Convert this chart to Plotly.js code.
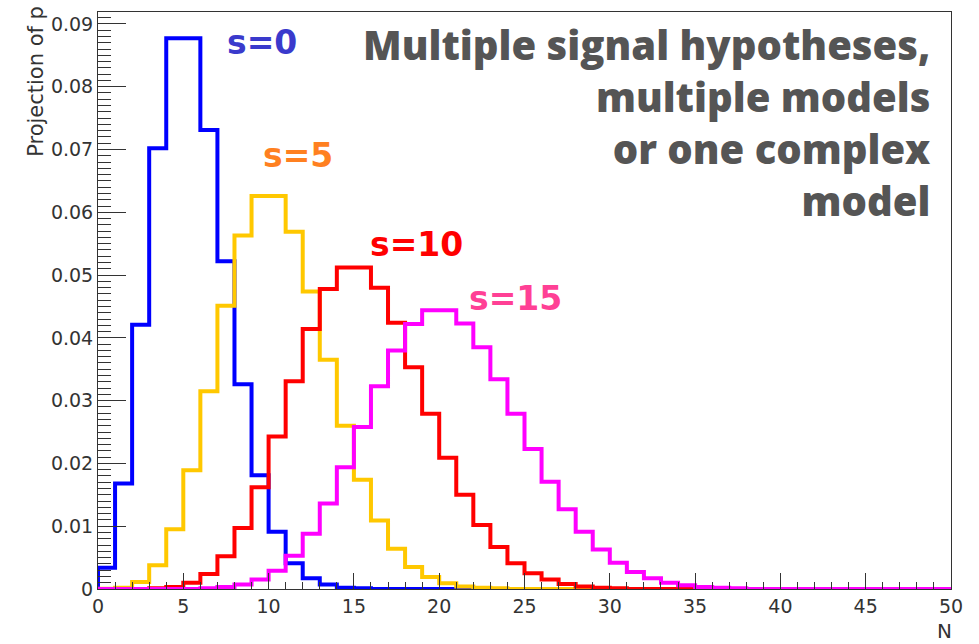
<!DOCTYPE html>
<html><head><meta charset="utf-8">
<script src="https://cdn.plot.ly/plotly-3.0.1.min.js"></script>
<style>html,body{margin:0;padding:0;background:#fff;}#chart{width:979px;height:644px;}</style>
</head><body><div id="chart"></div>
<script>
// ---- data ----
const binWidth = 1;
const xMin = 0;
const seriesLabels = ['s=0', 's=5', 's=10', 's=15'];
const s0Values = [0.0034, 0.0168, 0.0421, 0.0702, 0.0877, 0.0877, 0.0731, 0.0522, 0.0326, 0.0181,
  0.0091, 0.0041, 0.0017, 0.0007, 0.0002, 0.0001, 0, 0, 0, 0, 0, 0, 0];
const s5Values = [0.00002, 0.0002, 0.0011, 0.0038, 0.0095, 0.0189, 0.0315, 0.0451, 0.0563, 0.0626,
  0.0626, 0.0569, 0.0474, 0.0365, 0.0260, 0.0174, 0.0109, 0.0064, 0.0035, 0.0019,
  0.0009, 0.0004, 0.0002, 0.0001, 0, 0, 0, 0, 0, 0];
const s10Values = [0, 0, 0, 0.0001, 0.0003, 0.0010, 0.0024, 0.0052, 0.0097, 0.0162,
  0.0243, 0.0331, 0.0414, 0.0478, 0.0512, 0.0512, 0.0480, 0.0424, 0.0353, 0.0279,
  0.0209, 0.0150, 0.0102, 0.0067, 0.0041, 0.0025, 0.0015, 0.0008, 0.0004, 0.0002,
  0.0001, 0, 0, 0, 0, 0];
const s15Values = [0, 0, 0, 0, 0, 0, 0.0001, 0.0003, 0.0007, 0.0015,
  0.0029, 0.0053, 0.0088, 0.0136, 0.0194, 0.0258, 0.0323, 0.0380, 0.0422, 0.0444,
  0.0444, 0.0423, 0.0385, 0.0334, 0.0279, 0.0223, 0.0171, 0.0127, 0.0091, 0.0063,
  0.0042, 0.0027, 0.0017, 0.0010, 0.0006, 0.0003, 0.0002, 0.0001, 0, 0,
  0, 0, 0, 0, 0, 0, 0, 0, 0, 0];
const xTickVals = [0, 5, 10, 15, 20, 25, 30, 35, 40, 45, 50];
const xTickText = ['0', '5', '10', '15', '20', '25', '30', '35', '40', '45', '50'];
const yTickVals = [0, 0.01, 0.02, 0.03, 0.04, 0.05, 0.06, 0.07, 0.08, 0.09];
const yTickText = ['0', '0.01', '0.02', '0.03', '0.04', '0.05', '0.06', '0.07', '0.08', '0.09'];
const noteLines = ['Multiple signal hypotheses,', 'multiple models', 'or one complex', 'model'];
const xTitle = 'N';
const yTitle = 'Projection of p';

// ---- styling ----
const lineColors = ['#0000ff', '#ffc800', '#ff0000', '#ff00ff'];
const labelColors = ['#3a3acc', '#ff8020', '#ff0000', '#ff4095'];

function stepTrace(values, color, name) {
  const x = [xMin], y = [0];
  values.forEach((v, i) => { x.push(xMin + i * binWidth); y.push(v); });
  x.push(xMin + values.length * binWidth); y.push(0);
  return {type: 'scatter', mode: 'lines', x: x, y: y, name: name,
    line: {shape: 'hv', color: color, width: 4}, hoverinfo: 'skip', showlegend: false};
}

const allValues = [s0Values, s5Values, s10Values, s15Values];
const traces = allValues.map((v, i) => stepTrace(v, lineColors[i], seriesLabels[i]));

const labelPos = [[0.1928, 0.9468], [0.2339, 0.7510], [0.3734, 0.5976], [0.4889, 0.5031]];
const annotations = seriesLabels.map((t, i) => ({
  text: t, xref: 'paper', yref: 'paper', x: labelPos[i][0], y: labelPos[i][1],
  xanchor: 'center', yanchor: 'middle', showarrow: false,
  font: {family: 'DejaVu Sans', size: 33, color: labelColors[i], weight: 'bold'}
}));
annotations.push({
  text: noteLines.join('<br>'), xref: 'paper', yref: 'paper', x: 0.9777, y: 0.809,
  xanchor: 'right', yanchor: 'middle', align: 'right', showarrow: false,
  font: {family: 'Open Sans', size: 40, color: '#555555', weight: 800}
});
annotations.push({text: yTitle, xref: 'paper', yref: 'paper', x: -0.0727, y: 1.015,
  xanchor: 'center', yanchor: 'top', textangle: -90, showarrow: false,
  font: {family: 'DejaVu Sans', size: 21, color: '#333'}});
annotations.push({text: xTitle, xref: 'paper', yref: 'paper', x: 0.9918, y: -0.0723,
  xanchor: 'center', yanchor: 'middle', showarrow: false,
  font: {family: 'DejaVu Sans', size: 20, color: '#333'}});

const layout = {
  width: 979, height: 644,
  margin: {l: 98, r: 28, t: 12, b: 55},
  paper_bgcolor: '#fff', plot_bgcolor: '#fff',
  showlegend: false,
  xaxis: {range: [0, 50], tickmode: 'array', tickvals: xTickVals, ticktext: xTickText,
    ticks: 'inside', ticklen: 16, tickwidth: 1, tickcolor: '#333',
    showline: true, linecolor: '#333', linewidth: 1, mirror: true,
    showgrid: false, zeroline: false,
    tickfont: {family: 'DejaVu Sans', size: 19, color: '#333'},
    minor: {tickmode: 'linear', tick0: 0, dtick: 1, ticks: 'inside', ticklen: 7, tickcolor: '#333', showgrid: false}},
  yaxis: {range: [0, 0.0919], tickmode: 'array', tickvals: yTickVals, ticktext: yTickText,
    ticks: 'inside', ticklen: 28, tickwidth: 1, tickcolor: '#333',
    showline: true, linecolor: '#333', linewidth: 1, mirror: true,
    showgrid: false, zeroline: false,
    tickfont: {family: 'DejaVu Sans', size: 19, color: '#333'},
    minor: {tickmode: 'linear', tick0: 0, dtick: 0.001, ticks: 'inside', ticklen: 13, tickcolor: '#333', showgrid: false}},
  annotations: annotations
};

Plotly.newPlot('chart', traces, layout, {staticPlot: true, displayModeBar: false});
</script>
</body></html>
